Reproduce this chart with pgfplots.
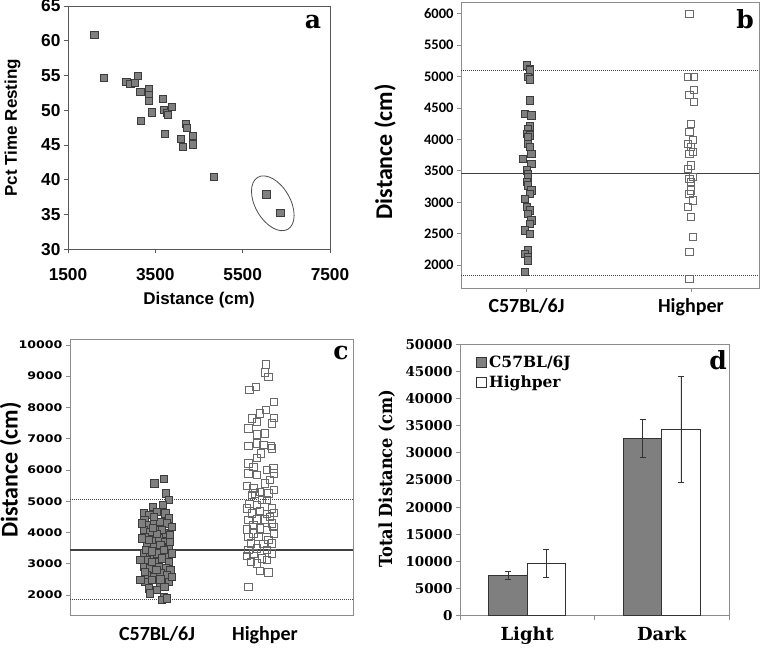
\documentclass[border=0pt]{standalone}
\usepackage{pgfplots}
\pgfplotsset{compat=1.18}
\usepackage{fontspec}
\setmainfont{Liberation Sans}
\newfontfamily\fA{Liberation Sans}
\newfontfamily\fB{Carlito}
\newfontfamily\fC{DejaVu Sans}[FakeStretch=1.2]
\newfontfamily\fD{DejaVu Serif}
\newfontfamily\fDn{DejaVu Serif}[FakeStretch=0.9]
\definecolor{markfill}{HTML}{7F7F7F}
\definecolor{markedge}{HTML}{3C3C3C}
\definecolor{frame}{HTML}{8C8C8C}
\definecolor{refline}{HTML}{404040}
\definecolor{openedge}{HTML}{6A6A6A}

\pgfplotsset{
  base/.style={scale only axis, anchor=south west,
    axis line style={frame, line width=0.9pt},
    tick style={frame, line width=0.8pt}, tick align=outside, tick pos=left,
    major tick length=4pt, scaled ticks=false,
    /pgf/number format/1000 sep={}, /pgf/number format/assume math mode=true},
  filled/.style={only marks, mark=square*, mark size=3.6pt,
    mark options={fill=markfill, draw=markedge, line width=0.6pt}},
  open/.style={only marks, mark=square, mark size=3.6pt,
    mark options={draw=openedge, line width=0.7pt}},
}

\begin{document}
\begin{tikzpicture}
\useasboundingbox (0pt,0pt) rectangle (761pt,648pt);

% ---------------- Panel a ----------------
\begin{axis}[base, at={(68pt,398.7pt)}, width=262pt, height=243.3pt,
  xmin=1500, xmax=7500, ymin=30, ymax=65,
  xtick={1500,3500,5500,7500}, ytick={30,35,...,65},
  axis line style={black!65, line width=0.9pt}, tick style={black!65},
  ticklabel style={font=\fontsize{17.3}{19}\selectfont\fA\bfseries},
  xticklabel style={yshift=-12pt},
  xlabel={Distance (cm)}, ylabel={Pct Time Resting},
  label style={font=\fontsize{17}{19}\selectfont\fA\bfseries},
  xlabel style={at={(axis description cs:0.5,-0.21)}, anchor=center},
  ylabel style={at={(axis description cs:-0.212,0.5)}, anchor=center}]
\addplot[filled] coordinates {
(2104,60.9) (2318,54.7) (2837,54.1) (2929,53.8) (3028,53.9) (3090,55.0)
(3158,52.7) (3174,48.5) (3342,53.1) (3342,52.2) (3342,51.4) (3411,49.7)
(3678,51.6) (3701,50.1) (3709,46.6) (3770,49.6) (3793,49.4) (3877,50.5)
(4076,45.9) (4137,44.7) (4198,48.1) (4213,47.5) (4351,46.3) (4366,45.1)
(4848,40.4) (6040,37.9) (6361,35.2)};
\end{axis}
\draw[black!70, line width=0.8pt, rotate around={-60:(272.8pt,444.7pt)}] (272.8pt,444.7pt) ellipse (30pt and 17.5pt);
\node[font=\fontsize{25}{25}\selectfont\fD\bfseries, anchor=base, inner sep=0pt] at (313pt,619.7pt) {a};

% ---------------- Panel b ----------------
\begin{axis}[base, at={(461pt,359.7pt)}, width=298pt, height=286.3pt,
  xmin=0.602, xmax=2.414, ymin=1634, ymax=6184,
  xtick={1,2}, xticklabels={C57BL/6J,Highper},
  ytick={2000,2500,...,6000},
  yticklabel style={font=\fontsize{14.5}{16}\selectfont\fB\bfseries},
  xticklabel style={font=\fontsize{20}{22}\selectfont\fB\bfseries, yshift=-3pt},
  ylabel={Distance (cm)},
  ylabel style={font=\fontsize{24}{26}\selectfont\fB\bfseries, at={(axis description cs:-0.255,0.477)}, anchor=center}]
\addplot[refline, line width=1.3pt] coordinates {(0.602,3456) (2.414,3456)};
\addplot[refline, line width=1pt, dash pattern=on 1pt off 1pt] coordinates {(0.602,5094) (2.414,5094)};
\addplot[refline, line width=1pt, dash pattern=on 1pt off 1pt] coordinates {(0.602,1841) (2.414,1841)};
\addplot[filled] coordinates {
(1.00,5179) (1.02,5126) (1.02,5099) (1.01,4993) (1.02,4956) (1.02,4622)
(0.99,4411) (1.03,4384) (1.02,4209) (1.01,4172) (1.00,4093) (1.02,4066)
(1.01,4040) (1.01,3934) (1.02,3881) (1.03,3775) (0.98,3695) (1.03,3616)
(1.00,3510) (1.01,3457) (1.01,3404) (1.00,3324) (1.01,3271) (1.03,3192)
(1.02,3139) (0.99,3059) (1.00,2927) (1.02,2874) (1.01,2821) (1.03,2715)
(1.02,2662) (0.99,2556) (1.02,2503) (1.01,2238) (0.99,2185) (1.01,2132)
(1.01,2079) (0.99,1894)};
\addplot[open] coordinates {
(1.99,6000) (1.98,4993) (2.02,4993) (2.02,4792) (1.99,4702) (2.02,4596)
(2.00,4252) (1.99,4119) (2.01,3987) (1.98,3934) (2.00,3881) (2.01,3801)
(1.99,3775) (2.00,3589) (1.98,3536) (2.01,3404) (1.99,3378) (2.00,3324)
(2.00,3192) (1.99,3139) (2.01,3033) (1.98,2927) (2.00,2768) (2.01,2450)
(1.99,2212) (1.99,1788)};
\end{axis}
\node[font=\fontsize{25}{25}\selectfont\fD\bfseries, anchor=base, inner sep=0pt] at (745pt,619.7pt) {b};

% ---------------- Panel c ----------------
\begin{axis}[base, at={(70pt,33pt)}, width=283pt, height=275.7pt,
  xmin=0.194, xmax=2.815, ymin=1360, ymax=10180,
  xtick={1,2}, xticklabels={C57BL/6J,Highper}, x tick style={draw=none},
  ytick={2000,3000,...,10000},
  yticklabel style={font=\fontsize{10.5}{12}\selectfont\fC\bfseries},
  xticklabel style={font=\fontsize{20}{22}\selectfont\fB\bfseries, yshift=-4pt},
  ylabel={Distance (cm)},
  ylabel style={font=\fontsize{24}{26}\selectfont\fB\bfseries, at={(axis description cs:-0.21,0.526)}, anchor=center}]
\addplot[refline, line width=1.3pt] coordinates {(0.194,3440) (2.815,3440)};
\addplot[refline, line width=1pt, dash pattern=on 1pt off 1pt] coordinates {(0.194,5040) (2.815,5040)};
\addplot[refline, line width=1pt, dash pattern=on 1pt off 1pt] coordinates {(0.194,1862) (2.815,1862)};
\addplot[filled] coordinates {
(0.975,5573) (1.062,5712) (1.083,5253) (1.108,5040) (0.963,4827) (1.056,4880)
(0.877,4613) (0.929,4560) (1.000,4667) (1.077,4613) (1.108,4453) (0.883,4400)
(0.923,4240) (0.975,4293) (1.031,4347) (1.093,4293) (0.877,4080) (0.938,4027)
(1.000,4080) (1.062,3973) (1.117,3920) (0.883,3867) (0.954,3760) (1.015,3813)
(1.077,3707) (0.907,3600) (0.969,3547) (1.031,3600) (1.108,3547) (0.877,3333)
(0.938,3280) (1.000,3333) (1.077,3280) (0.907,3120) (0.985,3067) (1.046,3173)
(1.108,3067) (0.883,2907) (0.938,2853) (1.015,2907) (1.083,2853) (1.123,2800)
(0.901,2640) (0.969,2587) (1.031,2693) (1.093,2640) (0.892,2427) (0.954,2480)
(1.025,2373) (1.108,2427) (0.923,2213) (1.000,2160) (1.068,2267) (0.932,2053)
(1.062,1947) (1.046,1840) (1.093,1893)
(0.861,3813) (1.139,3333) (0.846,3120) (1.139,2587) (0.861,4293) (1.139,4187)
(0.969,4507) (0.901,3440) (1.062,3440) (0.954,3067) (0.994,2800) (0.846,2480)
(1.046,4080) (0.923,3760) (1.000,3950) (0.950,3400) (1.030,2500) (0.890,2750)
(1.120,3700) (0.960,4150)};
\addplot[open] coordinates {
(2.006,9381) (2.000,9125) (2.031,8987) (1.917,8667) (1.855,8560) (2.083,8187)
(2.006,7920) (2.083,7675) (1.954,7813) (1.877,7653) (2.062,7493) (1.923,7547)
(1.846,7333) (2.000,7173) (1.923,7141) (1.846,6768) (1.923,6853) (1.985,6800)
(2.052,6768) (2.062,6693) (1.963,6533) (1.923,6395) (1.846,6213) (1.892,6107)
(2.015,6000) (2.077,6053) (2.083,5893) (1.846,5893) (1.923,5840) (2.046,5680)
(2.000,5573) (1.830,5499) (1.892,5413) (1.954,5307) (2.031,5253) (2.083,5360)
(1.907,5253) (2.015,5040) (1.855,4912) (1.923,4880) (2.062,4773) (1.954,4699)
(1.877,4613) (2.015,4592) (2.083,4635) (1.846,4400) (1.923,4421) (2.000,4421)
(2.062,4293) (1.892,4240) (1.830,4101) (1.954,4133) (2.015,4080) (1.892,3973)
(2.083,3973) (1.846,3867) (1.938,3867) (2.031,3760) (1.867,3653) (1.985,3632)
(2.062,3653) (1.923,3493) (2.015,3440) (1.846,3440) (1.892,3333) (2.062,3333)
(1.830,3248) (1.969,3173) (1.923,3013) (2.015,3120) (1.867,3067) (1.954,2779)
(2.031,2725) (1.846,2267)
(2.046,4507) (1.969,5040) (1.877,5200) (1.830,4773) (2.077,4187)};
\end{axis}
\node[font=\fontsize{25}{25}\selectfont\fD\bfseries, anchor=base, inner sep=0pt] at (341pt,288pt) {c};

% ---------------- Panel d ----------------
\begin{axis}[base, at={(460pt,32.3pt)}, width=269pt, height=271.4pt,
  xmin=0, xmax=2, ymin=0, ymax=50000,
  ybar=0pt, bar width=0.2855,
  xtick={0,1,2}, xticklabels={},
  extra x ticks={0.5,1.5}, extra x tick labels={Light,Dark},
  extra x tick style={major tick length=0pt},
  ytick={0,5000,...,50000},
  yticklabel style={font=\fontsize{13.5}{15}\selectfont\fD\bfseries},
  xticklabel style={font=\fontsize{18}{20}\selectfont\fD\bfseries, yshift=-8pt},
  ylabel={Total Distance (cm)},
  ylabel style={font=\fontsize{18}{20}\selectfont\fDn\bfseries, at={(axis description cs:-0.273,0.504)}, anchor=center},
  legend cell align=left,
  legend style={at={(axis description cs:0.06,0.965)}, anchor=north west, draw=none, fill=none,
    font=\fontsize{15.5}{17}\selectfont\fD\bfseries, inner sep=0pt, row sep=3pt,
    /tikz/every even column/.append style={column sep=3pt}},
  legend image code/.code={\draw[#1, line width=0.8pt] (0pt,-5pt) rectangle (10pt,5pt);}]
\addplot[fill=markfill, draw=black!80, line width=0.8pt,
  error bars/.cd, y dir=both, y explicit,
  error bar style={line width=0.9pt, black!80},
  error mark options={rotate=90, mark size=3pt, line width=0.9pt, black!80}]
  coordinates {(0.5,7450) +- (0,700) (1.5,32700) +- (0,3500)};
\addplot[fill=white, draw=black!80, line width=0.8pt,
  error bars/.cd, y dir=both, y explicit,
  error bar style={line width=0.9pt, black!80},
  error mark options={rotate=90, mark size=3pt, line width=0.9pt, black!80}]
  coordinates {(0.5,9570) += (0,2700) -= (0,2500) (1.5,34400) += (0,9650) -= (0,9800)};
\legend{C57BL/6J,Highper}
\end{axis}
\node[font=\fontsize{25}{25}\selectfont\fD\bfseries, anchor=base, inner sep=0pt] at (718pt,278pt) {d};
\end{tikzpicture}
\end{document}
